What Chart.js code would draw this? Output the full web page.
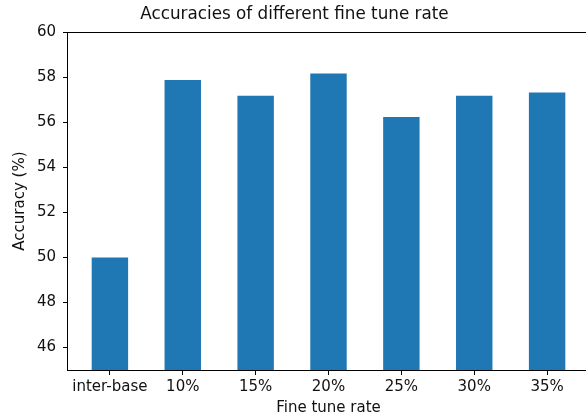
<!DOCTYPE html>
<html>
<head>
<meta charset="utf-8">
<script src="https://cdn.jsdelivr.net/npm/chart.js@4.4.1/dist/chart.umd.min.js"></script>
<style>
  html, body { margin: 0; padding: 0; background: #fff; overflow: hidden; }
  #wrap { width: 586px; height: 416px; overflow: hidden; }
</style>
</head>
<body>
<div id="wrap"><canvas id="chart" width="600" height="416"></canvas></div>
<script>
// data
const rates = ['inter-base', '10%', '15%', '20%', '25%', '30%', '35%'];
const accuracy = [50.0, 57.88, 57.18, 58.16, 56.23, 57.18, 57.32];
const yTicks = [46, 48, 50, 52, 54, 56, 58, 60];

const FONT = "'DejaVu Sans', sans-serif";

// matplotlib style frame round the axes
const frame = {
  id: 'frame',
  afterDatasetsDraw(chart) {
    const a = chart.chartArea, ctx = chart.ctx;
    ctx.save();
    ctx.strokeStyle = '#000';
    ctx.lineWidth = 1;
    ctx.strokeRect(Math.round(a.left) - 0.5, Math.round(a.top) + 0.5,
      Math.round(a.right - a.left) + 1, Math.round(a.bottom - a.top));
    ctx.restore();
  }
};

new Chart(document.getElementById('chart'), {
  type: 'bar',
  data: {
    datasets: [{
      data: rates.map((r, i) => ({ x: i, y: accuracy[i] })),
      backgroundColor: '#1f77b4',
      borderWidth: 0,
      barPercentage: 0.5,
      categoryPercentage: 1
    }]
  },
  options: {
    responsive: false,
    animation: false,
    layout: { padding: { left: 0, right: 11, top: 0, bottom: 0 } },
    plugins: {
      legend: { display: false },
      tooltip: { enabled: false },
      title: {
        display: true,
        text: 'Accuracies of different fine tune rate',
        color: '#111',
        font: { family: FONT, size: 16.8, weight: 'normal' },
        padding: { top: 5, bottom: 7 }
      }
    },
    scales: {
      x: {
        type: 'linear',
        min: -0.575,
        max: 6.575,
        offset: false,
        afterBuildTicks: s => { s.ticks = rates.map((r, i) => ({ value: i })); },
        afterFit: s => { s.height = 46; },
        ticks: {
          callback: v => rates[v],
          color: '#111',
          font: { family: FONT, size: 15 },
          padding: 3,
          maxRotation: 0,
          autoSkip: false
        },
        grid: { drawOnChartArea: false, tickLength: 5, tickColor: '#000', offset: false },
        border: { display: false },
        title: {
          display: true,
          text: 'Fine tune rate',
          color: '#111',
          font: { family: FONT, size: 15 },
          padding: { top: 0, bottom: -1 }
        }
      },
      y: {
        min: 45,
        max: 60,
        afterBuildTicks: s => { s.ticks = yTicks.map(v => ({ value: v })); },
        afterFit: s => { s.width = 68; },
        ticks: {
          color: '#111',
          font: { family: FONT, size: 15 },
          padding: 7
        },
        grid: { drawOnChartArea: false, tickLength: 5, tickColor: '#000' },
        border: { display: false },
        title: {
          display: true,
          text: 'Accuracy (%)',
          color: '#111',
          font: { family: FONT, size: 15 },
          padding: { top: 11, bottom: 0 }
        }
      }
    }
  },
  plugins: [frame]
});
</script>
</body>
</html>
